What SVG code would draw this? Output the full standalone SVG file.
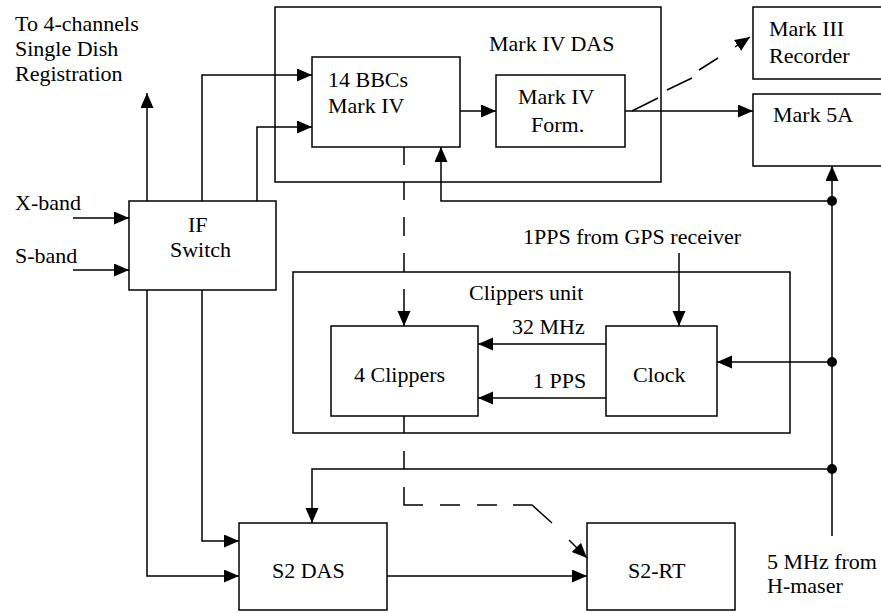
<svg xmlns="http://www.w3.org/2000/svg" width="881" height="613" viewBox="0 0 881 613">
  <defs>
    <marker id="arr" markerUnits="userSpaceOnUse" markerWidth="16" markerHeight="14" refX="15" refY="6.5" orient="auto">
      <path d="M0,0 L15,6.5 L0,13 z" fill="#000"/>
    </marker>
  </defs>
  <rect width="881" height="613" fill="#fff"/>

  <g id="markIV-das" fill="none" stroke="#000" stroke-width="1.5">
    <rect x="275" y="7" width="386" height="175"/>
  </g>
  <g id="clippers-unit" fill="none" stroke="#000" stroke-width="1.5">
    <rect x="293" y="272" width="497" height="161"/>
  </g>

  <g id="if-switch"><rect fill="#fff" stroke="#000" stroke-width="1.5" x="129" y="201" width="147" height="89"/></g>
  <g id="bbcs"><rect fill="#fff" stroke="#000" stroke-width="1.5" x="312" y="57" width="148" height="90"/></g>
  <g id="form"><rect fill="#fff" stroke="#000" stroke-width="1.5" x="496" y="75" width="129" height="72"/></g>
  <g id="mark3"><rect fill="#fff" stroke="#000" stroke-width="1.5" x="753" y="7" width="140" height="72"/></g>
  <g id="mark5a"><rect fill="#fff" stroke="#000" stroke-width="1.5" x="753" y="94" width="140" height="72"/></g>
  <g id="clippers"><rect fill="#fff" stroke="#000" stroke-width="1.5" x="331" y="326" width="147" height="90"/></g>
  <g id="clock"><rect fill="#fff" stroke="#000" stroke-width="1.5" x="606" y="326" width="111" height="90"/></g>
  <g id="s2das"><rect fill="#fff" stroke="#000" stroke-width="1.5" x="239" y="523" width="148" height="87"/></g>
  <g id="s2rt"><rect fill="#fff" stroke="#000" stroke-width="1.5" x="587" y="523" width="148" height="87"/></g>

  <g id="connectors" fill="none" stroke="#000" stroke-width="1.5">
    <path marker-end="url(#arr)" d="M73,218 L129,218"/>
    <path marker-end="url(#arr)" d="M73,270 L129,270"/>
    <path marker-end="url(#arr)" d="M147,201 L147,93"/>
    <path marker-end="url(#arr)" d="M202,201 L202,75 L312,75"/>
    <path marker-end="url(#arr)" d="M257,201 L257,127 L312,127"/>
    <path marker-end="url(#arr)" d="M460,111 L496,111"/>
    <path marker-end="url(#arr)" d="M625,111 L753,111"/>
    <path d="M632,111 L658,98 M667,90 L692,78 M699,70 L718,58"/>
    <path marker-end="url(#arr)" d="M735,47 L750,37"/>
    <path d="M404,147 L404,165 M404,182 L404,200 M404,217 L404,236 M404,253 L404,272"/>
    <path marker-end="url(#arr)" d="M404,289 L404,326"/>
    <path d="M404,416 L404,433 M404,451 L404,469 M404,487 L404,505 L423,505 M440,505 L460,505 M477,505 L497,505 M513,505 L532,505 L552,523"/>
    <path marker-end="url(#arr)" d="M569,540 L587,558"/>
    <path marker-end="url(#arr)" d="M832,536 L832,166"/>
    <path marker-end="url(#arr)" d="M832,201 L441,201 L441,147"/>
    <path marker-end="url(#arr)" d="M832,362 L717,362"/>
    <path marker-end="url(#arr)" d="M832,469 L312,469 L312,523"/>
    <path marker-end="url(#arr)" d="M679,253 L679,326"/>
    <path marker-end="url(#arr)" d="M606,344 L478,344"/>
    <path marker-end="url(#arr)" d="M606,398 L478,398"/>
    <path marker-end="url(#arr)" d="M147,290 L147,576 L239,576"/>
    <path marker-end="url(#arr)" d="M202,290 L202,541 L239,541"/>
    <path marker-end="url(#arr)" d="M387,576 L587,576"/>
    <circle fill="#000" stroke="none" cx="832" cy="201" r="5"/>
    <circle fill="#000" stroke="none" cx="832" cy="362" r="5"/>
    <circle fill="#000" stroke="none" cx="832" cy="469" r="5"/>
  </g>

  <text x="489" y="51" font-family="Liberation Serif" font-size="22">Mark IV DAS</text>
  <text x="469" y="300" font-family="Liberation Serif" font-size="22">Clippers unit</text>
  <text x="188" y="232" font-family="Liberation Serif" font-size="22">IF</text>
  <text x="170" y="257" font-family="Liberation Serif" font-size="22">Switch</text>
  <text x="328" y="87" font-family="Liberation Serif" font-size="22">14 BBCs</text>
  <text x="328" y="113" font-family="Liberation Serif" font-size="22">Mark IV</text>
  <text x="518" y="104" font-family="Liberation Serif" font-size="22">Mark IV</text>
  <text x="531" y="132" font-family="Liberation Serif" font-size="22">Form.</text>
  <text x="769" y="36" font-family="Liberation Serif" font-size="22">Mark III</text>
  <text x="769" y="63" font-family="Liberation Serif" font-size="22">Recorder</text>
  <text x="773" y="122" font-family="Liberation Serif" font-size="22">Mark 5A</text>
  <text x="354" y="382" font-family="Liberation Serif" font-size="22">4 Clippers</text>
  <text x="633" y="382" font-family="Liberation Serif" font-size="22">Clock</text>
  <text x="272" y="578" font-family="Liberation Serif" font-size="22">S2 DAS</text>
  <text x="628" y="578" font-family="Liberation Serif" font-size="22">S2-RT</text>
  <text x="15" y="31" font-family="Liberation Serif" font-size="22">To 4-channels</text>
  <text x="15" y="56" font-family="Liberation Serif" font-size="22">Single Dish</text>
  <text x="15" y="81" font-family="Liberation Serif" font-size="22">Registration</text>
  <text x="15" y="210" font-family="Liberation Serif" font-size="22">X-band</text>
  <text x="15" y="263" font-family="Liberation Serif" font-size="22">S-band</text>
  <text x="523" y="244" font-family="Liberation Serif" font-size="22">1PPS from GPS receiver</text>
  <text x="512" y="334" font-family="Liberation Serif" font-size="22">32 MHz</text>
  <text x="533" y="388" font-family="Liberation Serif" font-size="22">1 PPS</text>
  <text x="767" y="569" font-family="Liberation Serif" font-size="22">5 MHz from</text>
  <text x="767" y="593" font-family="Liberation Serif" font-size="22">H-maser</text>
</svg>
